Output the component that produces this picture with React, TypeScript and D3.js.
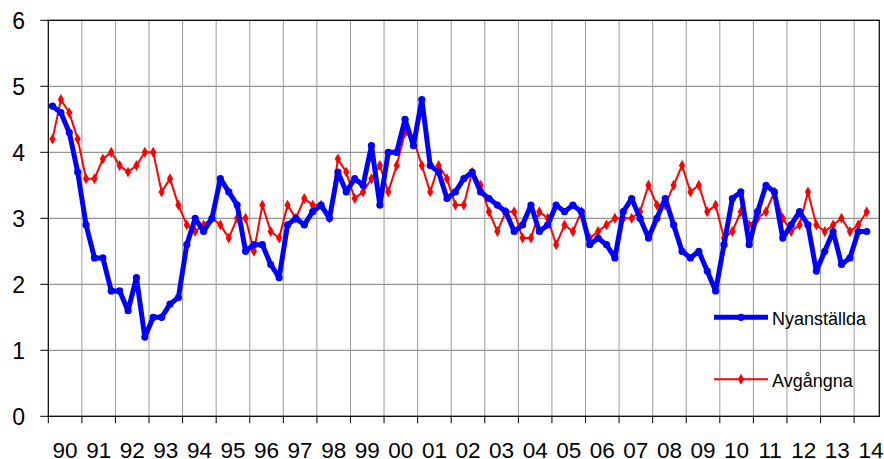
import React, { useRef, useEffect } from "react";
import * as d3 from "d3";

// quarterly data, 1990 Q1 - 2014 Q2
const years = ["90", "91", "92", "93", "94", "95", "96", "97", "98", "99", "00", "01", "02", "03", "04", "05", "06", "07", "08", "09", "10", "11", "12", "13", "14"];

const nyanstallda = [
  4.7, 4.6, 4.3, 3.7,
  2.9, 2.4, 2.4, 1.9,
  1.9, 1.6, 2.1, 1.2,
  1.5, 1.5, 1.7, 1.8,
  2.6, 3.0, 2.8, 3.0,
  3.6, 3.4, 3.2, 2.5,
  2.6, 2.6, 2.3, 2.1,
  2.9, 3.0, 2.9, 3.1,
  3.2, 3.0, 3.7, 3.4,
  3.6, 3.5, 4.1, 3.2,
  4.0, 4.0, 4.5, 4.1,
  4.8, 3.8, 3.7, 3.3,
  3.4, 3.6, 3.7, 3.4,
  3.3, 3.2, 3.1, 2.8,
  2.9, 3.2, 2.8, 2.9,
  3.2, 3.1, 3.2, 3.1,
  2.6, 2.7, 2.6, 2.4,
  3.1, 3.3, 3.0, 2.7,
  3.0, 3.3, 2.9, 2.5,
  2.4, 2.5, 2.2, 1.9,
  2.6, 3.3, 3.4, 2.6,
  3.1, 3.5, 3.4, 2.7,
  2.9, 3.1, 2.9, 2.2,
  2.5, 2.8, 2.3, 2.4,
  2.8, 2.8,
];

const avgangna = [
  4.2, 4.8, 4.6, 4.2,
  3.6, 3.6, 3.9, 4.0,
  3.8, 3.7, 3.8, 4.0,
  4.0, 3.4, 3.6, 3.2,
  2.9, 2.8, 2.9, 3.0,
  2.9, 2.7, 3.0, 3.0,
  2.5, 3.2, 2.8, 2.7,
  3.2, 3.0, 3.3, 3.2,
  3.2, 3.0, 3.9, 3.7,
  3.3, 3.4, 3.6, 3.8,
  3.4, 3.8, 4.3, 4.2,
  3.8, 3.4, 3.8, 3.6,
  3.2, 3.2, 3.7, 3.5,
  3.1, 2.8, 3.1, 3.1,
  2.7, 2.7, 3.1, 3.0,
  2.6, 2.9, 2.8, 3.1,
  2.7, 2.8, 2.9, 3.0,
  3.0, 3.0, 3.1, 3.5,
  3.2, 3.2, 3.5, 3.8,
  3.4, 3.5, 3.1, 3.2,
  2.7, 2.8, 3.1, 2.9,
  3.0, 3.1, 3.4, 3.0,
  2.8, 2.9, 3.4, 2.9,
  2.8, 2.9, 3.0, 2.8,
  2.9, 3.1,
];

const yTicks = [0, 1, 2, 3, 4, 5, 6];

export default function App() {
  const svgRef = useRef<SVGSVGElement>(null);

  useEffect(() => {
    const svg = d3.select(svgRef.current);
    svg.selectAll("*").remove();

    const width = 884;
    const height = 459;
    const left = 48.3, right = 879.3, top = 20.3, bottom = 416.3;
    const nCat = 99; // one empty quarter at the end

    const x = d3.scaleLinear().domain([0, nCat]).range([left, right]);
    const y = d3.scaleLinear().domain([0, 6]).range([bottom, top]);
    const font = "'Liberation Sans', Arial, sans-serif";

    svg.append("rect").attr("width", width).attr("height", height).attr("fill", "#fff");

    // gridlines
    const grid = svg.append("g");
    yTicks.forEach((t) => {
      grid.append("line")
        .attr("x1", left).attr("x2", right)
        .attr("y1", y(t)).attr("y2", y(t))
        .attr("stroke", "#7a7a7a").attr("stroke-width", 1);
    });
    years.forEach((_, i) => {
      if (i === 0) return;
      grid.append("line")
        .attr("x1", x(i * 4)).attr("x2", x(i * 4))
        .attr("y1", top).attr("y2", bottom)
        .attr("stroke", "#9a9a9a").attr("stroke-width", 1);
    });

    // frame
    svg.append("rect")
      .attr("x", left).attr("y", top)
      .attr("width", right - left).attr("height", bottom - top)
      .attr("fill", "none").attr("stroke", "#000").attr("stroke-width", 1.2);

    // y axis ticks + labels
    yTicks.forEach((t) => {
      svg.append("line")
        .attr("x1", left - 8).attr("x2", left)
        .attr("y1", y(t)).attr("y2", y(t))
        .attr("stroke", "#000");
      svg.append("text")
        .attr("x", 25).attr("y", y(t) + 8.5)
        .attr("text-anchor", "end")
        .attr("font-family", font).attr("font-size", 23)
        .text(String(t));
    });

    // x axis ticks + labels
    years.forEach((lab, i) => {
      svg.append("line")
        .attr("x1", x(i * 4)).attr("x2", x(i * 4))
        .attr("y1", bottom).attr("y2", bottom + 7)
        .attr("stroke", "#000");
      svg.append("text")
        .attr("x", x(i * 4 + 2)).attr("y", 458)
        .attr("text-anchor", "middle")
        .attr("font-family", font).attr("font-size", 22.5)
        .text(lab);
    });

    const line = d3.line<number>()
      .x((_, i) => x(i + 0.5))
      .y((d) => y(d));

    // Avgångna (red)
    svg.append("path")
      .datum(avgangna)
      .attr("d", line)
      .attr("fill", "none").attr("stroke", "#ff0000").attr("stroke-width", 2);
    const diamond = d3.symbol().type(d3.symbolDiamond).size(34);
    svg.append("g").selectAll("path")
      .data(avgangna).enter().append("path")
      .attr("d", diamond)
      .attr("transform", (d, i) => `translate(${x(i + 0.5)},${y(d)})`)
      .attr("fill", "#ff0000");

    // Nyanställda (blue)
    svg.append("path")
      .datum(nyanstallda)
      .attr("d", line)
      .attr("fill", "none").attr("stroke", "#0000ff").attr("stroke-width", 5)
      .attr("stroke-linejoin", "round");
    svg.append("g").selectAll("circle")
      .data(nyanstallda).enter().append("circle")
      .attr("cx", (d, i) => x(i + 0.5)).attr("cy", (d) => y(d))
      .attr("r", 3.6)
      .attr("fill", "#0000ff");

    // legend
    const legend = svg.append("g");
    const items = [
      { name: "Nyanställda", color: "#0000ff", w: 5, y: 317.3, circle: true },
      { name: "Avgångna", color: "#ff0000", w: 2, y: 379.3, circle: false },
    ];
    items.forEach((it) => {
      legend.append("line")
        .attr("x1", 714).attr("x2", 768)
        .attr("y1", it.y).attr("y2", it.y)
        .attr("stroke", it.color).attr("stroke-width", it.w);
      if (it.circle) {
        legend.append("circle").attr("cx", 741).attr("cy", it.y).attr("r", 3.6).attr("fill", it.color);
      } else {
        legend.append("path").attr("d", diamond)
          .attr("transform", `translate(741,${it.y})`).attr("fill", it.color);
      }
      legend.append("text")
        .attr("x", 772).attr("y", it.y + 7.5)
        .attr("font-family", font).attr("font-size", 18)
        .text(it.name);
    });
  }, []);

  return (
    <div style={{ position: "absolute", left: 0, top: 0 }}>
      <svg ref={svgRef} width={884} height={459} style={{ display: "block" }}></svg>
    </div>
  );
}
